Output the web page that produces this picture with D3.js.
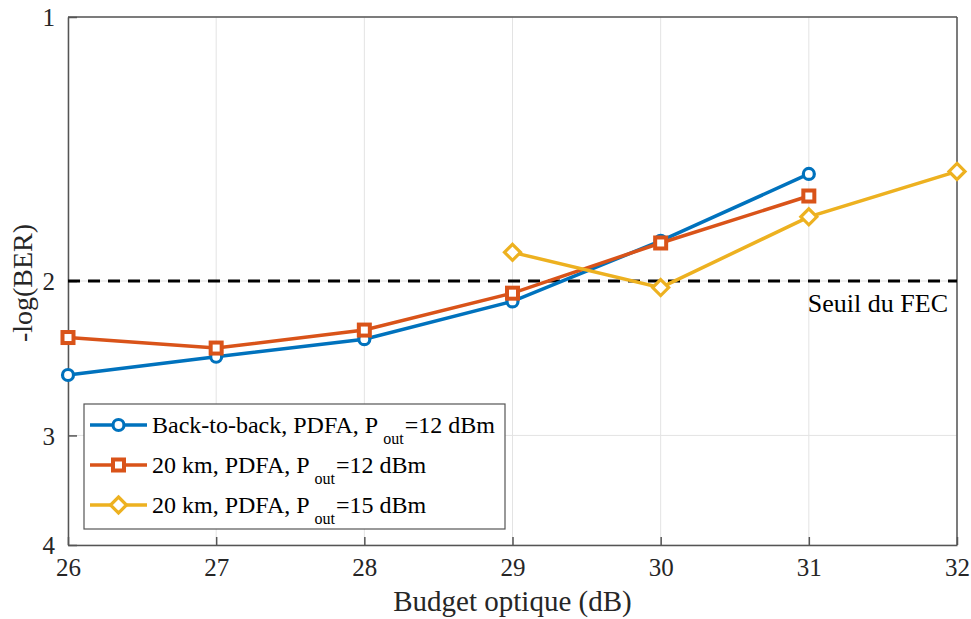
<!DOCTYPE html>
<html>
<head>
<meta charset="utf-8">
<script src="https://cdn.jsdelivr.net/npm/d3@7"></script>
<style>
  body { margin: 0; background: #fff; }
  text { font-family: "Liberation Serif", "Times New Roman", serif; }
</style>
</head>
<body>
<svg id="chart"></svg>
<script>
// data
var budget = [26, 27, 28, 29, 30, 31, 32]
var b2b12 = [[26, 2.56], [27, 2.44], [28, 2.33], [29, 2.11], [30, 1.80], [31, 1.51]]
var km20p12 = [[26, 2.32], [27, 2.385], [28, 2.275], [29, 2.065], [30, 1.81], [31, 1.60]]
var km20p15 = [[29, 1.855], [30, 2.035], [31, 1.69], [32, 1.50]]
var yTicks = [1, 2, 3, 4]
var fecLevel = 2
var seriesNames = ["Back-to-back, PDFA, P", "20 km, PDFA, P", "20 km, PDFA, P"]
var seriesTails = ["=12 dBm", "=12 dBm", "=15 dBm"]

var width = 971,
  height = 619
var m = { left: 68, right: 957, top: 17, bottom: 545 }

var svg = d3.select("#chart")
  .attr("width", width)
  .attr("height", height)

var x = d3.scaleLinear().domain([26, 32]).range([m.left, m.right])
var y = d3.scaleLog().domain([1, 4]).range([m.top, m.bottom])

var axisColor = "#555"

// grid
svg.append("g").selectAll("line")
  .data(budget)
  .enter()
  .append("line")
  .attr("x1", function (d) { return x(d) })
  .attr("x2", function (d) { return x(d) })
  .attr("y1", m.top)
  .attr("y2", m.bottom)
  .style("stroke", "#e3e3e3")
  .style("stroke-width", 1)

svg.append("g").selectAll("line")
  .data(yTicks)
  .enter()
  .append("line")
  .attr("x1", m.left)
  .attr("x2", m.right)
  .attr("y1", function (d) { return y(d) })
  .attr("y2", function (d) { return y(d) })
  .style("stroke", "#e3e3e3")
  .style("stroke-width", 1)

// axes
var xAxis = svg.append("g")
  .attr("transform", "translate(0," + m.bottom + ")")
  .call(d3.axisBottom(x).tickValues(budget).tickFormat(d3.format("d")).tickSizeInner(-8).tickSizeOuter(0).tickPadding(16))
var yAxis = svg.append("g")
  .attr("transform", "translate(" + m.left + ",0)")
  .call(d3.axisLeft(y).tickValues(yTicks).tickFormat(d3.format("d")).tickSizeInner(-9).tickSizeOuter(0).tickPadding(13))

svg.selectAll(".domain").style("stroke", axisColor).style("stroke-width", 1.5)
svg.selectAll(".tick line").style("stroke", axisColor).style("stroke-width", 1.5)
svg.selectAll(".tick text")
  .style("font-size", "25px")
  .style("fill", "#262626")
  .style("font-family", "'Liberation Serif', serif")
yAxis.selectAll(".tick text").attr("dy", "0.35em")
xAxis.selectAll(".tick text").attr("dy", "0.6em")

// box top/right
svg.append("line")
  .attr("x1", m.left).attr("x2", m.right)
  .attr("y1", m.top).attr("y2", m.top)
  .style("stroke", axisColor).style("stroke-width", 1.5)
svg.append("line")
  .attr("x1", m.right).attr("x2", m.right)
  .attr("y1", m.top).attr("y2", m.bottom)
  .style("stroke", axisColor).style("stroke-width", 1.5)

// FEC threshold
svg.append("line")
  .attr("x1", m.left).attr("x2", m.right)
  .attr("y1", y(fecLevel)).attr("y2", y(fecLevel))
  .style("stroke", "#000")
  .style("stroke-width", 3)
  .style("stroke-dasharray", "12,8")

svg.append("text")
  .attr("x", m.right - 9)
  .attr("y", y(fecLevel) + 31)
  .attr("text-anchor", "end")
  .style("font-size", "26px")
  .style("fill", "#000")
  .text("Seuil du FEC")

// series
var colors = ["#0072BD", "#D95319", "#EDB120"]
var shapes = ["circle", "square", "diamond"]
var allSeries = [b2b12, km20p12, km20p15]

var line = d3.line()
  .x(function (d) { return x(d[0]) })
  .y(function (d) { return y(d[1]) })

function marker(g, shape, color, cx, cy) {
  if (shape === "circle") {
    g.append("circle").attr("cx", cx).attr("cy", cy).attr("r", 5.5)
      .style("fill", "#fff").style("stroke", color).style("stroke-width", 3.2)
  } else if (shape === "square") {
    g.append("rect").attr("x", cx - 5.5).attr("y", cy - 5.5).attr("width", 11).attr("height", 11)
      .style("fill", "#fff").style("stroke", color).style("stroke-width", 4)
  } else {
    var s = 8
    g.append("path")
      .attr("d", "M" + cx + "," + (cy - s) + "L" + (cx + s) + "," + cy + "L" + cx + "," + (cy + s) + "L" + (cx - s) + "," + cy + "Z")
      .style("fill", "#fff").style("stroke", color).style("stroke-width", 3.2)
  }
}

allSeries.forEach(function (data, i) {
  var g = svg.append("g")
  g.append("path")
    .datum(data)
    .attr("d", line)
    .style("fill", "none")
    .style("stroke", colors[i])
    .style("stroke-width", 3.5)
  data.forEach(function (d) {
    marker(g, shapes[i], colors[i], x(d[0]), y(d[1]))
  })
})

// axis labels
svg.append("text")
  .attr("x", (m.left + m.right) / 2)
  .attr("y", 611)
  .attr("text-anchor", "middle")
  .style("font-size", "29px")
  .style("fill", "#262626")
  .text("Budget optique (dB)")

svg.append("text")
  .attr("transform", "translate(32,283) rotate(-90)")
  .attr("text-anchor", "middle")
  .style("font-size", "28px")
  .style("fill", "#262626")
  .text("-log(BER)")

// legend
var lg = svg.append("g")
lg.append("rect")
  .attr("x", 84).attr("y", 404)
  .attr("width", 421).attr("height", 125)
  .style("fill", "#fff")
  .style("stroke", axisColor)
  .style("stroke-width", 1.2)

seriesNames.forEach(function (name, i) {
  var ly = 425 + i * 40
  lg.append("line")
    .attr("x1", 90).attr("x2", 147)
    .attr("y1", ly).attr("y2", ly)
    .style("stroke", colors[i])
    .style("stroke-width", 3.5)
  marker(lg, shapes[i], colors[i], 118.5, ly)
  var t = lg.append("text")
    .attr("x", 152)
    .attr("y", ly + 8)
    .style("font-size", "24px")
    .style("fill", "#000")
  t.append("tspan").text(name)
  t.append("tspan").attr("dx", 5).attr("dy", 11).style("font-size", "16px").text("out")
  t.append("tspan").attr("dx", 1).attr("dy", -11).text(seriesTails[i])
})
</script>
</body>
</html>
